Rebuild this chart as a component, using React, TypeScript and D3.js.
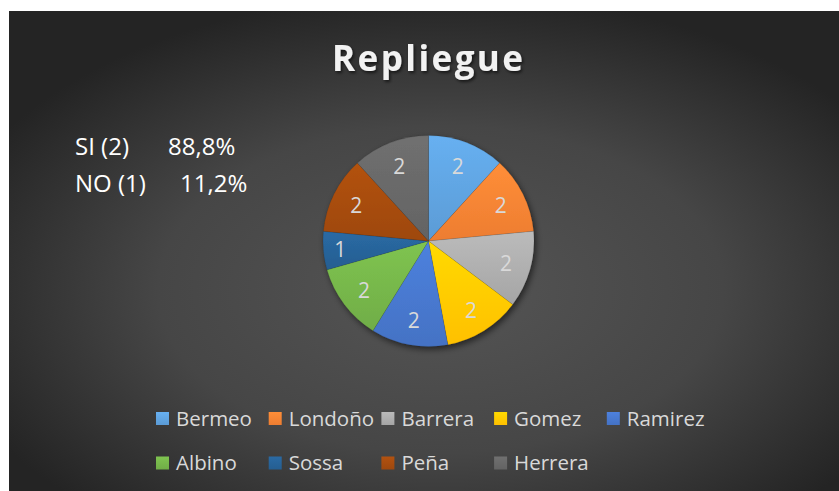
import { pie, arc, PieArcDatum, color } from "d3";

const names = ["Bermeo", "Londoño", "Barrera", "Gomez", "Ramirez", "Albino", "Sossa", "Peña", "Herrera"];
const values = [2, 2, 2, 2, 2, 2, 1, 2, 2];
const colors = ["#5B9BD5", "#ED7D31", "#A5A5A5", "#FFC000", "#4472C4", "#70AD47", "#255E91", "#9E480E", "#636363"];
const noteRows = [
  { label: "SI (2)", pct: "88,8%" },
  { label: "NO (1)", pct: "11,2%" },
];

const W = 839;
const H = 491;
const cx = 428.5;
const cy = 241;
const R = 105.5;

type Row = { name: string; value: number; color: string };

export default function App() {
  const rows: Row[] = names.map((n, i) => ({ name: n, value: values[i], color: colors[i] }));
  const arcs = pie<Row>().sort(null).value((d) => d.value)(rows);
  const sliceArc = arc<PieArcDatum<Row>>().innerRadius(0).outerRadius(R);

  // narrow slices get their label pushed further out, like excel does
  const labelPos = (a: PieArcDatum<Row>) => {
    const mid = (a.startAngle + a.endAngle) / 2;
    const lr = a.endAngle - a.startAngle < 0.5 ? R * 0.84 : R * 0.765;
    return [Math.sin(mid) * lr, -Math.cos(mid) * lr];
  };

  const lighter = (c: string) => color(c)!.brighter(0.35).formatHex();

  return (
    <svg
      width={W}
      height={H}
      style={{ position: "absolute", left: 0, top: 0, background: "#fff" }}
    >
      <defs>
        <radialGradient id="bg" cx="52%" cy="58%" r="62%">
          <stop offset="0%" stopColor="#555555" />
          <stop offset="55%" stopColor="#464646" />
          <stop offset="100%" stopColor="#242424" />
        </radialGradient>
        {rows.map((d, i) => (
          <linearGradient key={i} id={`g${i}`} x1="0" y1="0" x2="0" y2="1">
            <stop offset="0%" stopColor={lighter(d.color)} />
            <stop offset="100%" stopColor={d.color} />
          </linearGradient>
        ))}
        <filter id="shadow" x="-20%" y="-20%" width="140%" height="140%">
          <feDropShadow dx="2" dy="3" stdDeviation="3" floodColor="#000" floodOpacity="0.55" />
        </filter>
        <filter id="tshadow" x="-10%" y="-30%" width="120%" height="160%">
          <feDropShadow dx="1.5" dy="2" stdDeviation="1.5" floodColor="#000" floodOpacity="0.6" />
        </filter>
      </defs>

      <rect x={9} y={11} width={W - 9} height={H - 11} fill="url(#bg)" />

      <text
        x={427.5}
        y={71}
        textAnchor="middle"
        fill="#f2f2f2"
        fontFamily="'Open Sans', sans-serif"
        fontWeight="bold"
        fontSize={35}
        textLength={191}
        lengthAdjust="spacing"
        filter="url(#tshadow)"
      >
        Repliegue
      </text>

      <g fontFamily="'Open Sans', sans-serif" fontSize={24} fill="#ffffff">
        {noteRows.map((r, i) => (
          <g key={i}>
            <text x={75} y={155 + i * 36.5}>{r.label}</text>
            <text x={i === 0 ? 168 : 180} y={155 + i * 36.5}>{r.pct}</text>
          </g>
        ))}
      </g>

      <g transform={`translate(${cx},${cy})`}>
        <g filter="url(#shadow)">
          {arcs.map((a, i) => (
            <path key={i} d={sliceArc(a) ?? ""} fill={`url(#g${i})`} stroke="rgba(0,0,0,0.15)" strokeWidth={0.6} />
          ))}
        </g>
        {arcs.map((a, i) => {
          const [x, y] = labelPos(a);
          return (
            <text
              key={i}
              x={x}
              y={y}
              textAnchor="middle"
              dominantBaseline="central"
              fill="#d9d9d9"
              fontFamily="'Open Sans', sans-serif"
              fontSize={21}
            >
              {a.data.value}
            </text>
          );
        })}
      </g>

      <g fontFamily="'Open Sans', sans-serif" fontSize={20.5} fill="#d9d9d9">
        {rows.map((d, i) => {
          const col = i % 5;
          const row = Math.floor(i / 5);
          const x = 156 + col * 112.7;
          const y = 412 + row * 44.5;
          return (
            <g key={i} transform={`translate(${x},${y})`}>
              <rect width={13} height={13} fill={`url(#g${i})`} />
              <text x={20} y={13.5}>{d.name}</text>
            </g>
          );
        })}
      </g>
    </svg>
  );
}
